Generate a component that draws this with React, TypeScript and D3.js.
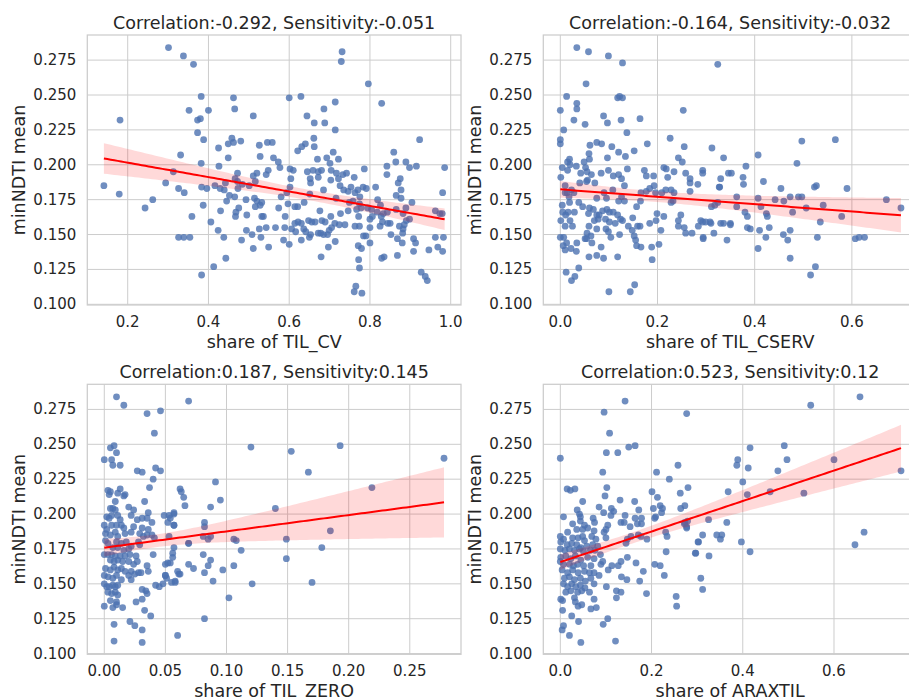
import React from "react";
import * as d3 from "d3";

// ---------------- data ----------------
const titles = [
  "Correlation:-0.292, Sensitivity:-0.051",
  "Correlation:-0.164, Sensitivity:-0.032",
  "Correlation:0.187, Sensitivity:0.145",
  "Correlation:0.523, Sensitivity:0.12",
];
const xLabels = ["share of TIL_CV", "share of TIL_CSERV", "share of TIL_ZERO", "share of ARAXTIL"];
const yLabel = "minNDTI mean";
const yTicks = [0.1, 0.125, 0.15, 0.175, 0.2, 0.225, 0.25, 0.275];
const xTicksCv = [0.2, 0.4, 0.6, 0.8, 1.0];
const xTicksCserv = [0.0, 0.2, 0.4, 0.6];
const xTicksZero = [0.0, 0.05, 0.1, 0.15, 0.2, 0.25];
const xTicksArax = [0.0, 0.2, 0.4, 0.6];

const tilCv: [number, number][] = [
[0.301,0.284],[0.338,0.278],[0.363,0.272],[0.731,0.281],[0.729,0.274],[0.796,0.258],[0.600,0.248],[0.629,0.249],[0.382,0.249],[0.462,0.248],[0.714,0.245],[0.829,0.244],[0.352,0.239],[0.400,0.239],[0.465,0.240],[0.686,0.240],[0.511,0.235],[0.644,0.235],[0.181,0.232],[0.373,0.232],[0.380,0.233],[0.662,0.230],[0.688,0.230],[0.714,0.225],[0.373,0.223],[0.388,0.218],[0.661,0.219],[0.923,0.218],[0.458,0.219],[0.480,0.217],[0.449,0.215],[0.462,0.216],[0.526,0.214],[0.546,0.216],[0.558,0.216],[0.640,0.215],[0.631,0.213],[0.621,0.210],[0.662,0.213],[0.425,0.212],[0.709,0.209],[0.859,0.209],[0.331,0.207],[0.449,0.205],[0.528,0.206],[0.561,0.205],[0.573,0.202],[0.670,0.204],[0.722,0.204],[0.693,0.205],[0.382,0.201],[0.426,0.199],[0.577,0.198],[0.864,0.202],[0.889,0.202],[0.842,0.199],[0.898,0.198],[0.915,0.199],[0.985,0.198],[0.701,0.201],[0.602,0.197],[0.610,0.196],[0.786,0.197],[0.313,0.195],[0.472,0.194],[0.520,0.194],[0.548,0.196],[0.543,0.193],[0.645,0.195],[0.659,0.196],[0.672,0.195],[0.680,0.196],[0.704,0.196],[0.717,0.194],[0.733,0.193],[0.742,0.194],[0.842,0.193],[0.672,0.191],[0.511,0.192],[0.604,0.190],[0.652,0.190],[0.703,0.189],[0.722,0.190],[0.761,0.191],[0.875,0.190],[0.466,0.190],[0.472,0.188],[0.516,0.188],[0.870,0.187],[0.653,0.187],[0.294,0.187],[0.442,0.187],[0.484,0.186],[0.501,0.185],[0.141,0.185],[0.416,0.185],[0.726,0.185],[0.753,0.184],[0.814,0.184],[0.783,0.184],[0.791,0.183],[0.326,0.183],[0.383,0.184],[0.396,0.183],[0.429,0.183],[0.439,0.182],[0.473,0.183],[0.602,0.184],[0.594,0.180],[0.685,0.182],[0.735,0.182],[0.746,0.181],[0.770,0.182],[0.877,0.182],[0.179,0.179],[0.340,0.180],[0.651,0.179],[0.763,0.180],[0.980,0.180],[0.865,0.178],[0.775,0.177],[0.452,0.178],[0.465,0.177],[0.580,0.177],[0.716,0.176],[0.877,0.176],[0.262,0.175],[0.493,0.175],[0.514,0.176],[0.520,0.174],[0.532,0.173],[0.819,0.175],[0.445,0.174],[0.758,0.174],[0.904,0.173],[0.597,0.172],[0.637,0.173],[0.749,0.173],[0.387,0.171],[0.528,0.171],[0.614,0.170],[0.621,0.170],[0.774,0.172],[0.826,0.171],[0.778,0.169],[0.516,0.170],[0.574,0.169],[0.794,0.169],[0.889,0.169],[0.865,0.168],[0.243,0.169],[0.475,0.169],[0.767,0.168],[0.804,0.168],[0.676,0.167],[0.746,0.167],[0.962,0.167],[0.973,0.165],[0.979,0.165],[0.430,0.167],[0.468,0.166],[0.727,0.165],[0.818,0.166],[0.833,0.165],[0.843,0.166],[0.882,0.165],[0.467,0.163],[0.495,0.164],[0.532,0.163],[0.536,0.163],[0.590,0.163],[0.703,0.163],[0.772,0.163],[0.800,0.161],[0.806,0.163],[0.828,0.163],[0.359,0.163],[0.898,0.161],[0.890,0.160],[0.406,0.159],[0.648,0.160],[0.656,0.159],[0.664,0.159],[0.681,0.160],[0.689,0.159],[0.614,0.158],[0.622,0.159],[0.630,0.158],[0.713,0.158],[0.724,0.157],[0.738,0.157],[0.831,0.159],[0.844,0.158],[0.850,0.158],[0.763,0.156],[0.774,0.156],[0.825,0.156],[0.873,0.156],[0.885,0.157],[0.800,0.155],[0.526,0.154],[0.543,0.155],[0.566,0.155],[0.589,0.155],[0.606,0.154],[0.616,0.152],[0.636,0.154],[0.641,0.152],[0.705,0.155],[0.699,0.153],[0.882,0.154],[0.424,0.153],[0.494,0.153],[0.508,0.150],[0.678,0.151],[0.672,0.151],[0.685,0.150],[0.695,0.150],[0.653,0.150],[0.852,0.150],[0.881,0.151],[0.784,0.149],[0.790,0.149],[0.326,0.148],[0.339,0.148],[0.354,0.148],[0.438,0.148],[0.530,0.148],[0.650,0.148],[0.630,0.146],[0.586,0.146],[0.962,0.148],[0.982,0.148],[0.908,0.147],[0.868,0.147],[0.482,0.146],[0.714,0.145],[0.913,0.144],[0.880,0.144],[0.800,0.144],[0.600,0.143],[0.771,0.142],[0.779,0.140],[0.697,0.141],[0.549,0.141],[0.511,0.140],[0.946,0.139],[0.968,0.141],[0.980,0.138],[0.908,0.138],[0.868,0.135],[0.679,0.134],[0.835,0.134],[0.829,0.133],[0.443,0.133],[0.772,0.132],[0.413,0.127],[0.774,0.126],[0.383,0.121],[0.927,0.123],[0.937,0.120],[0.942,0.117],[0.765,0.113],[0.761,0.109],[0.780,0.108]
];

const tilCserv: [number, number][] = [
[0.034,0.284],[0.058,0.281],[0.099,0.278],[0.128,0.273],[0.324,0.272],[0.053,0.258],[0.013,0.249],[0.118,0.248],[0.128,0.248],[0.122,0.249],[0.253,0.239],[0.034,0.244],[0.034,0.240],[0.0,0.239],[0.089,0.235],[0.028,0.232],[0.051,0.229],[0.097,0.230],[0.125,0.232],[0.164,0.233],[0.007,0.225],[0.137,0.223],[0.0,0.218],[0.0,0.215],[0.226,0.219],[0.497,0.217],[0.566,0.218],[0.179,0.215],[0.061,0.214],[0.075,0.216],[0.085,0.215],[0.106,0.213],[0.120,0.209],[0.255,0.213],[0.312,0.212],[0.059,0.208],[0.152,0.210],[0.134,0.206],[0.097,0.205],[0.019,0.204],[0.060,0.204],[0.243,0.205],[0.251,0.202],[0.336,0.205],[0.407,0.207],[0.487,0.201],[0.015,0.202],[0.020,0.200],[0.033,0.199],[0.004,0.198],[0.049,0.202],[0.052,0.198],[0.213,0.198],[0.218,0.197],[0.173,0.196],[0.138,0.197],[0.099,0.196],[0.084,0.194],[0.042,0.194],[0.055,0.195],[0.015,0.196],[0.064,0.193],[0.109,0.192],[0.120,0.193],[0.177,0.192],[0.192,0.192],[0.234,0.195],[0.258,0.194],[0.293,0.196],[0.293,0.194],[0.346,0.194],[0.352,0.194],[0.376,0.191],[0.382,0.199],[0.001,0.191],[0.054,0.188],[0.126,0.190],[0.221,0.191],[0.267,0.190],[0.330,0.190],[0.418,0.188],[0.056,0.189],[0.071,0.187],[0.040,0.187],[0.132,0.185],[0.193,0.185],[0.267,0.187],[0.283,0.186],[0.377,0.186],[0.327,0.184],[0.328,0.184],[0.454,0.183],[0.523,0.184],[0.527,0.185],[0.590,0.183],[0.010,0.185],[0.023,0.182],[0.014,0.180],[0.010,0.180],[0.028,0.180],[0.090,0.180],[0.108,0.182],[0.166,0.180],[0.177,0.181],[0.184,0.183],[0.196,0.180],[0.209,0.180],[0.217,0.182],[0.228,0.182],[0.234,0.180],[0.267,0.181],[0.018,0.177],[0.075,0.176],[0.126,0.177],[0.095,0.176],[0.120,0.174],[0.132,0.174],[0.165,0.174],[0.232,0.174],[0.228,0.173],[0.363,0.177],[0.442,0.175],[0.460,0.174],[0.473,0.177],[0.490,0.177],[0.497,0.177],[0.407,0.176],[0.671,0.175],[0.038,0.173],[0.019,0.173],[0.004,0.171],[0.046,0.170],[0.060,0.169],[0.157,0.170],[0.311,0.170],[0.318,0.171],[0.324,0.173],[0.363,0.170],[0.413,0.170],[0.541,0.171],[0.701,0.169],[0.506,0.169],[0.005,0.166],[0.011,0.164],[0.016,0.166],[0.029,0.166],[0.068,0.168],[0.080,0.164],[0.087,0.167],[0.096,0.168],[0.101,0.166],[0.109,0.166],[0.118,0.164],[0.058,0.165],[0.075,0.164],[0.199,0.165],[0.248,0.164],[0.380,0.166],[0.385,0.163],[0.424,0.165],[0.426,0.163],[0.478,0.166],[0.579,0.163],[0.001,0.160],[0.020,0.160],[0.070,0.160],[0.078,0.161],[0.093,0.161],[0.101,0.159],[0.113,0.158],[0.124,0.161],[0.128,0.160],[0.140,0.156],[0.149,0.162],[0.213,0.163],[0.197,0.160],[0.243,0.160],[0.243,0.156],[0.255,0.155],[0.289,0.160],[0.293,0.159],[0.299,0.159],[0.308,0.159],[0.310,0.158],[0.330,0.158],[0.336,0.158],[0.350,0.158],[0.350,0.157],[0.284,0.156],[0.184,0.158],[0.159,0.156],[0.164,0.156],[0.535,0.159],[0.010,0.156],[0.025,0.156],[0.059,0.156],[0.075,0.154],[0.094,0.154],[0.099,0.152],[0.148,0.153],[0.207,0.153],[0.258,0.151],[0.271,0.151],[0.316,0.151],[0.385,0.155],[0.391,0.154],[0.410,0.153],[0.430,0.155],[0.459,0.150],[0.473,0.153],[0.0,0.148],[0.007,0.148],[0.013,0.144],[0.006,0.142],[0.010,0.139],[0.022,0.140],[0.034,0.144],[0.033,0.138],[0.051,0.147],[0.055,0.151],[0.063,0.149],[0.054,0.147],[0.065,0.144],[0.084,0.141],[0.104,0.148],[0.122,0.150],[0.152,0.149],[0.155,0.146],[0.157,0.142],[0.166,0.141],[0.188,0.141],[0.203,0.143],[0.294,0.148],[0.294,0.147],[0.343,0.146],[0.423,0.148],[0.407,0.140],[0.468,0.146],[0.529,0.148],[0.607,0.147],[0.615,0.148],[0.626,0.148],[0.059,0.134],[0.075,0.135],[0.089,0.133],[0.118,0.134],[0.189,0.132],[0.473,0.133],[0.038,0.126],[0.030,0.120],[0.012,0.123],[0.023,0.117],[0.525,0.127],[0.515,0.121],[0.153,0.114],[0.144,0.109],[0.100,0.109]
];

const tilZero: [number, number][] = [
[0.010,0.284],[0.016,0.278],[0.035,0.272],[0.046,0.274],[0.069,0.281],[0.041,0.258],[0.005,0.2475],[0.008,0.249],[0.010,0.244],[0.0,0.239],[0.006,0.239],[0.007,0.235],[0.013,0.235],[0.027,0.231],[0.031,0.230],[0.042,0.233],[0.046,0.231],[0.040,0.225],[0.037,0.219],[0.003,0.217],[0.005,0.216],[0.004,0.214],[0.013,0.218],[0.011,0.215],[0.016,0.213],[0.017,0.214],[0.009,0.209],[0.020,0.205],[0.005,0.204],[0.007,0.204],[0.009,0.203],[0.024,0.203],[0.033,0.209],[0.036,0.201],[0.002,0.198],[0.004,0.197],[0.006,0.199],[0.011,0.199],[0.013,0.196],[0.022,0.199],[0.027,0.196],[0.031,0.197],[0.035,0.197],[0.039,0.194],[0.049,0.199],[0.054,0.197],[0.057,0.200],[0.0,0.192],[0.002,0.189],[0.006,0.192],[0.010,0.192],[0.014,0.192],[0.016,0.190],[0.024,0.191],[0.031,0.190],[0.036,0.189],[0.052,0.194],[0.057,0.192],[0.001,0.186],[0.005,0.185],[0.009,0.187],[0.011,0.184],[0.017,0.186],[0.022,0.187],[0.029,0.186],[0.032,0.184],[0.035,0.185],[0.041,0.183],[0.039,0.185],[0.053,0.184],[0.001,0.181],[0.003,0.179],[0.010,0.180],[0.014,0.179],[0.018,0.180],[0.022,0.177],[0.028,0.180],[0.029,0.178],[0.007,0.176],[0.011,0.176],[0.016,0.174],[0.020,0.175],[0.069,0.179],[0.0,0.171],[0.003,0.171],[0.006,0.171],[0.009,0.170],[0.013,0.170],[0.017,0.170],[0.021,0.171],[0.026,0.170],[0.040,0.171],[0.056,0.172],[0.005,0.167],[0.008,0.166],[0.011,0.167],[0.015,0.166],[0.020,0.166],[0.024,0.164],[0.027,0.166],[0.050,0.164],[0.054,0.165],[0.001,0.161],[0.005,0.160],[0.008,0.162],[0.011,0.160],[0.014,0.161],[0.017,0.159],[0.022,0.159],[0.025,0.157],[0.028,0.158],[0.030,0.158],[0.035,0.163],[0.036,0.159],[0.050,0.156],[0.051,0.154],[0.055,0.151],[0.058,0.152],[0.060,0.159],[0.062,0.157],[0.0,0.156],[0.003,0.155],[0.007,0.154],[0.010,0.156],[0.014,0.153],[0.020,0.156],[0.022,0.153],[0.0,0.150],[0.002,0.148],[0.004,0.148],[0.007,0.149],[0.009,0.148],[0.011,0.149],[0.042,0.149],[0.045,0.148],[0.031,0.146],[0.034,0.145],[0.035,0.143],[0.003,0.144],[0.006,0.143],[0.009,0.144],[0.011,0.142],[0.005,0.138],[0.010,0.137],[0.026,0.137],[0.031,0.139],[0.0,0.134],[0.007,0.133],[0.010,0.135],[0.015,0.133],[0.033,0.131],[0.038,0.127],[0.021,0.123],[0.025,0.120],[0.031,0.117],[0.008,0.121],[0.008,0.109],[0.031,0.108],[0.057,0.176],[0.056,0.169],
[0.120,0.248],[0.193,0.249],[0.153,0.245],[0.278,0.240],[0.167,0.230],[0.091,0.223],[0.062,0.218],[0.063,0.216],[0.065,0.212],[0.095,0.210],[0.066,0.206],[0.087,0.205],[0.140,0.204],[0.219,0.219],[0.082,0.194],[0.082,0.191],[0.057,0.201],[0.053,0.199],[0.057,0.192],[0.081,0.184],[0.087,0.184],[0.085,0.182],[0.106,0.182],[0.108,0.181],[0.149,0.182],[0.185,0.188],[0.069,0.179],[0.178,0.176],[0.112,0.174],[0.081,0.171],[0.087,0.167],[0.149,0.168],[0.085,0.163],[0.106,0.163],[0.069,0.164],[0.073,0.161],[0.097,0.160],[0.082,0.158],[0.061,0.157],[0.089,0.152],[0.058,0.151],[0.121,0.150],[0.170,0.151],[0.102,0.140],[0.082,0.125],[0.060,0.113],[0.052,0.165],[0.050,0.156],[0.048,0.150]
];

const araxtil: [number, number][] = [
[0.142,0.281],[0.096,0.273],[0.277,0.272],[0.108,0.258],[0.150,0.248],[0.164,0.249],[0.101,0.244],[0.126,0.244],[0.0,0.240],[0.093,0.230],[0.211,0.230],[0.258,0.235],[0.239,0.225],[0.015,0.218],[0.022,0.217],[0.032,0.218],[0.102,0.219],[0.098,0.213],[0.201,0.216],[0.213,0.212],[0.263,0.215],[0.280,0.219],[0.049,0.209],[0.131,0.210],[0.163,0.209],[0.085,0.205],[0.112,0.204],[0.117,0.202],[0.095,0.201],[0.037,0.203],[0.042,0.200],[0.044,0.198],[0.172,0.203],[0.204,0.204],[0.219,0.206],[0.224,0.204],[0.222,0.201],[0.273,0.206],[0.264,0.204],[0.007,0.198],[0.044,0.195],[0.072,0.197],[0.111,0.199],[0.142,0.199],[0.164,0.197],[0.178,0.197],[0.209,0.198],[0.207,0.197],[0.027,0.193],[0.053,0.192],[0.075,0.194],[0.104,0.192],[0.133,0.194],[0.140,0.194],[0.153,0.191],[0.169,0.193],[0.178,0.193],[0.272,0.193],[0.279,0.195],[0.016,0.187],[0.036,0.189],[0.049,0.189],[0.060,0.190],[0.074,0.188],[0.100,0.189],[0.096,0.187],[0.231,0.187],[0.234,0.184],[0.277,0.190],[0.0,0.184],[0.007,0.182],[0.027,0.183],[0.039,0.183],[0.049,0.184],[0.053,0.181],[0.069,0.184],[0.078,0.182],[0.100,0.183],[0.147,0.182],[0.155,0.184],[0.171,0.185],[0.177,0.184],[0.190,0.182],[0.144,0.179],[0.302,0.180],[0.001,0.180],[0.015,0.178],[0.025,0.179],[0.036,0.178],[0.045,0.176],[0.058,0.177],[0.071,0.178],[0.082,0.177],[0.0,0.175],[0.010,0.174],[0.020,0.175],[0.031,0.174],[0.042,0.175],[0.051,0.173],[0.066,0.174],[0.076,0.174],[0.088,0.171],[0.232,0.173],[0.296,0.172],[0.001,0.169],[0.012,0.170],[0.023,0.168],[0.033,0.170],[0.045,0.167],[0.060,0.169],[0.074,0.168],[0.0,0.166],[0.007,0.164],[0.020,0.164],[0.029,0.163],[0.038,0.164],[0.051,0.163],[0.067,0.163],[0.089,0.164],[0.093,0.166],[0.113,0.163],[0.133,0.166],[0.127,0.163],[0.147,0.169],[0.166,0.165],[0.207,0.164],[0.219,0.163],[0.004,0.160],[0.016,0.158],[0.027,0.160],[0.039,0.158],[0.053,0.159],[0.064,0.158],[0.074,0.158],[0.105,0.160],[0.182,0.159],[0.228,0.156],[0.009,0.154],[0.020,0.155],[0.031,0.153],[0.044,0.154],[0.055,0.152],[0.067,0.154],[0.085,0.156],[0.134,0.155],[0.146,0.153],[0.174,0.152],[0.007,0.150],[0.016,0.148],[0.025,0.150],[0.034,0.148],[0.044,0.149],[0.054,0.147],[0.074,0.150],[0.101,0.148],[0.012,0.144],[0.023,0.145],[0.038,0.144],[0.047,0.145],[0.064,0.144],[0.123,0.145],[0.133,0.144],[0.189,0.143],[0.123,0.140],[0.074,0.139],[0.001,0.139],[0.005,0.138],[0.031,0.140],[0.033,0.137],[0.047,0.135],[0.039,0.134],[0.067,0.132],[0.079,0.133],[0.005,0.131],[0.025,0.127],[0.040,0.123],[0.094,0.121],[0.104,0.125],[0.007,0.120],[0.004,0.117],[0.020,0.113],[0.045,0.108],[0.121,0.109],[0.254,0.141],[0.255,0.134],
[0.657,0.284],[0.549,0.278],[0.416,0.2475],[0.491,0.249],[0.389,0.239],[0.387,0.235],[0.412,0.233],[0.497,0.239],[0.600,0.239],[0.477,0.231],[0.747,0.231],[0.400,0.223],[0.368,0.216],[0.410,0.214],[0.460,0.216],[0.534,0.215],[0.325,0.196],[0.365,0.194],[0.312,0.185],[0.303,0.180],[0.343,0.185],[0.351,0.182],[0.354,0.185],[0.397,0.180],[0.416,0.173],[0.297,0.172],[0.326,0.170],[0.308,0.154],[0.312,0.146],[0.646,0.178],[0.666,0.187],[0.273,0.194],[0.277,0.191]
];

// ---------------- layout ----------------
const W = 909;
const H = 699;
const FONT = "DejaVu Sans";
const TXT = "#262626";
const GRID = "#cccccc";
const DOT = "#4c72b0";

type Panel = {
  pts: [number, number][];
  title: string;
  xLabel: string;
  xTicks: number[];
  fmt: string;
  xDomain: [number, number];
  left: number;
  top: number;
};

const PW = 373.7;
const PH = 270;
const yDomain: [number, number] = [0.0995, 0.2930];

const panels: Panel[] = [
  { pts: tilCv, title: titles[0], xLabel: xLabels[0], xTicks: xTicksCv, fmt: ".1f", xDomain: [0.0999, 1.0255], left: 87.3, top: 35 },
  { pts: tilCserv, title: titles[1], xLabel: xLabels[1], xTicks: xTicksCserv, fmt: ".1f", xDomain: [-0.035, 0.734], left: 543.3, top: 35 },
  { pts: tilZero, title: titles[2], xLabel: xLabels[2], xTicks: xTicksZero, fmt: ".2f", xDomain: [-0.0139, 0.2919], left: 87.3, top: 384.3 },
  { pts: araxtil, title: titles[3], xLabel: xLabels[3], xTicks: xTicksArax, fmt: ".1f", xDomain: [-0.0373, 0.782], left: 543.3, top: 384.3 },
];

function regression(pts: [number, number][]) {
  const n = pts.length;
  const mx = d3.mean(pts, (p) => p[0]) as number;
  const my = d3.mean(pts, (p) => p[1]) as number;
  let sxx = 0, sxy = 0;
  for (const [x, y] of pts) { sxx += (x - mx) ** 2; sxy += (x - mx) * (y - my); }
  const b = sxy / sxx;
  const a = my - b * mx;
  let sse = 0;
  for (const [x, y] of pts) sse += (y - (a + b * x)) ** 2;
  const s = Math.sqrt(sse / (n - 2));
  const [x0, x1] = d3.extent(pts, (p) => p[0]) as [number, number];
  const grid = d3.range(100).map((i) => x0 + ((x1 - x0) * i) / 99);
  return grid.map((x) => {
    const yh = a + b * x;
    const se = s * Math.sqrt(1 / n + (x - mx) ** 2 / sxx);
    return { x, y: yh, lo: yh - 1.97 * se, hi: yh + 1.97 * se };
  });
}

function PanelView({ p, idx }: { p: Panel; idx: number }) {
  const x = d3.scaleLinear().domain(p.xDomain).range([p.left, p.left + PW]);
  const y = d3.scaleLinear().domain(yDomain).range([p.top + PH, p.top]);
  const fit = regression(p.pts);
  const area = d3.area<any>().x((d) => x(d.x)).y0((d) => y(d.lo)).y1((d) => y(d.hi));
  const line = d3.line<any>().x((d) => x(d.x)).y((d) => y(d.y));
  const f = d3.format(p.fmt);
  const f3 = d3.format(".3f");
  const bottom = p.top + PH;
  const clipId = `clip${idx}`;
  return (
    <g>
      <defs>
        <clipPath id={clipId}>
          <rect x={p.left} y={p.top} width={PW} height={PH} />
        </clipPath>
      </defs>
      <rect x={p.left} y={p.top} width={PW} height={PH} fill="#ffffff" />
      {yTicks.map((t) => (
        <line key={"gy" + t} x1={p.left} x2={p.left + PW} y1={y(t)} y2={y(t)} stroke={GRID} strokeWidth={1} />
      ))}
      {p.xTicks.map((t) => (
        <line key={"gx" + t} x1={x(t)} x2={x(t)} y1={p.top} y2={bottom} stroke={GRID} strokeWidth={1} />
      ))}
      <g clipPath={`url(#${clipId})`}>
        {p.pts.map((d, i) => (
          <circle key={i} cx={x(d[0])} cy={y(d[1])} r={3.4} fill={DOT} fillOpacity={0.8} />
        ))}
        <path d={area(fit) as string} fill="#ff0000" fillOpacity={0.15} />
        <path d={line(fit) as string} fill="none" stroke="#ff0000" strokeWidth={2} />
      </g>
      <rect x={p.left} y={p.top} width={PW} height={PH} fill="none" stroke={GRID} strokeWidth={1.25} />
      {yTicks.map((t) => (
        <text key={"ty" + t} x={p.left - 11} y={y(t)} textAnchor="end" dominantBaseline="central" fontSize={15} fill={TXT} fontFamily={FONT}>
          {f3(t)}
        </text>
      ))}
      {p.xTicks.map((t) => (
        <text key={"tx" + t} x={x(t)} y={bottom + 17} textAnchor="middle" dominantBaseline="central" fontSize={15} fill={TXT} fontFamily={FONT}>
          {f(t)}
        </text>
      ))}
      <text x={p.left + PW / 2} y={p.top - 6} textAnchor="middle" fontSize={17.5} fill={TXT} fontFamily={FONT}>
        {p.title}
      </text>
      <text x={p.left + PW / 2} y={bottom + 43} textAnchor="middle" fontSize={17.5} fill={TXT} fontFamily={FONT}>
        {p.xLabel}
      </text>
      <text transform={`translate(${p.left - 62},${p.top + PH / 2}) rotate(-90)`} textAnchor="middle" fontSize={17.5} fill={TXT} fontFamily={FONT}>
        {yLabel}
      </text>
    </g>
  );
}

export default function App() {
  return (
    <svg width={W} height={H} viewBox={`0 0 ${W} ${H}`} style={{ position: "absolute", left: 0, top: 0, background: "#ffffff" }}>
      <rect x={0} y={0} width={W} height={H} fill="#ffffff" />
      {panels.map((p, i) => (
        <PanelView key={i} p={p} idx={i} />
      ))}
    </svg>
  );
}
